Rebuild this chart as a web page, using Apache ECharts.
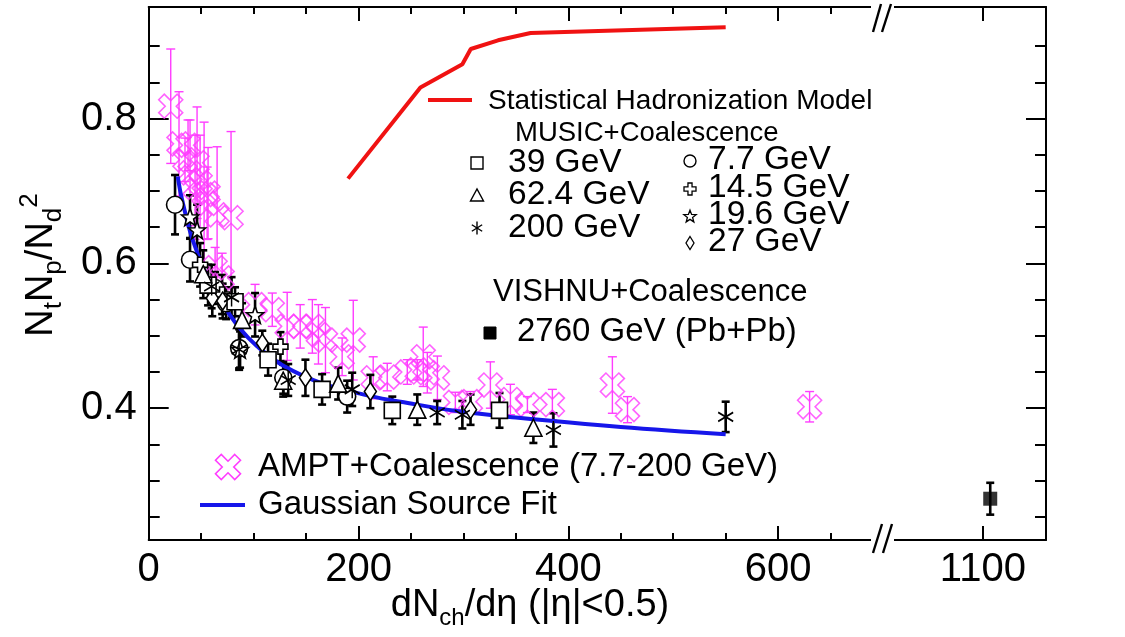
<!DOCTYPE html>
<html>
<head>
<meta charset="utf-8">
<script src="https://cdn.jsdelivr.net/npm/echarts@6/dist/echarts.min.js"></script>
<style>
  html, body { margin: 0; padding: 0; background: #ffffff; }
  #chart { width: 1125px; height: 637px; }
</style>
</head>
<body>
<div id="chart"></div>
<script>
// Each point: [dNch/deta, NtNp/Nd^2, uncertainty]

// AMPT + coalescence, 7.7-200 GeV
const amptPoints = [
  [21.0, 0.817, 0.079], [28.9, 0.765, 0.072], [37.5, 0.763, 0.035], [34.6, 0.743, 0.030],
  [39.4, 0.725, 0.073], [46.1, 0.739, 0.077], [44.2, 0.705, 0.072], [49.0, 0.712, 0.065],
  [52.8, 0.695, 0.100], [56.6, 0.697, 0.063], [55.7, 0.683, 0.050], [65.2, 0.667, 0.094],
  [78.5, 0.663, 0.119], [63.3, 0.594, 0.028], [70.0, 0.580, 0.034], [101.4, 0.543, 0.028],
  [117.8, 0.536, 0.023], [132.0, 0.513, 0.047], [144.4, 0.513, 0.030], [156.0, 0.513, 0.037],
  [161.8, 0.502, 0.041], [168.5, 0.494, 0.045], [184.4, 0.471, 0.026], [195.0, 0.494, 0.055],
  [214.0, 0.442, 0.029], [227.4, 0.443, 0.019], [246.5, 0.450, 0.017], [256.0, 0.453, 0.014],
  [261.7, 0.471, 0.041], [265.6, 0.449, 0.028], [275.2, 0.442, 0.030], [292.3, 0.408, 0.014],
  [306.6, 0.409, 0.014], [325.7, 0.432, 0.032], [344.8, 0.412, 0.021], [361.0, 0.405, 0.011],
  [384.8, 0.405, 0.021], [442.0, 0.432, 0.039], [456.4, 0.398, 0.018], [630.0, 0.402, 0.021]
];

// MUSIC + coalescence, one list per collision energy
const music7p7 = [
  [25.1, 0.681, 0.041], [39.4, 0.605, 0.030], [63.3, 0.566, 0.022], [73.8, 0.545, 0.022],
  [86.2, 0.483, 0.028], [128.3, 0.442, 0.022], [189.2, 0.416, 0.022]
];
const music14p5 = [
  [49.0, 0.598, 0.030], [70.0, 0.557, 0.027], [125.6, 0.485, 0.020]
];
const music19p6 = [
  [39.4, 0.664, 0.030], [46.1, 0.646, 0.035], [101.4, 0.529, 0.030], [87.1, 0.481, 0.025]
];
const music27 = [
  [60.6, 0.552, 0.025], [70.5, 0.548, 0.024], [108.3, 0.490, 0.017], [149.4, 0.442, 0.025],
  [211.3, 0.423, 0.023], [306.8, 0.398, 0.021]
];
const music39 = [
  [56.6, 0.570, 0.028], [82.3, 0.547, 0.020], [113.8, 0.467, 0.022], [165.3, 0.426, 0.021],
  [232.2, 0.397, 0.019], [334.4, 0.397, 0.024]
];
const music62p4 = [
  [52.0, 0.585, 0.033], [89.0, 0.522, 0.023], [128.2, 0.438, 0.022], [180.6, 0.434, 0.022],
  [256.0, 0.398, 0.021], [366.7, 0.373, 0.021]
];
const music200 = [
  [60.0, 0.568, 0.030], [79.0, 0.553, 0.028], [86.2, 0.481, 0.028], [133.0, 0.439, 0.022],
  [194.0, 0.426, 0.023], [275.0, 0.394, 0.016], [299.0, 0.391, 0.019], [385.8, 0.370, 0.023],
  [550.0, 0.388, 0.021]
];

// VISHNU + coalescence, Pb+Pb 2760 GeV
const vishnuPoints = [[1107, 0.275, 0.022]];

// Gaussian source fit
const gaussianFit = [
  [27.7, 0.720], [31.5, 0.690], [42, 0.632], [57, 0.577], [70, 0.545], [87, 0.510],
  [103, 0.486], [128, 0.459], [166, 0.434], [214, 0.416], [240, 0.409], [294, 0.396],
  [350, 0.387], [450, 0.374], [550, 0.364]
];

// Statistical hadronization model
const shmCurve = [
  [190, 0.717], [259, 0.843], [299, 0.875], [307, 0.896], [333, 0.908], [364, 0.918], [550, 0.926]
];

// Axis ticks
const xMajorTicks = [0, 200, 400, 600];
const xMinorTicks = [50, 100, 150, 250, 300, 350, 450, 500, 550, 650];
const xBreakTicks = [1100];
const yMajorTicks = [0.4, 0.6, 0.8];
const yMinorTicks = [0.25, 0.3, 0.35, 0.45, 0.5, 0.55, 0.65, 0.7, 0.75, 0.85, 0.9];

const FONT = "'Liberation Sans', Arial, Helvetica, sans-serif";
const MAGENTA = '#ff3cff';
const BLUE = '#1616ea';
const RED = '#f01212';

// ---- marker outlines, as points in a 100x100 box ----
const crossXPts = [[76.9, 0], [100, 23.1], [73.1, 50], [100, 76.9], [76.9, 100], [50, 73.1],
  [23.1, 100], [0, 76.9], [26.9, 50], [0, 23.1], [23.1, 0], [50, 26.9]];
const plusPts = [[33, 0], [67, 0], [67, 33], [100, 33], [100, 67], [67, 67], [67, 100], [33, 100],
  [33, 67], [0, 67], [0, 33], [33, 33]];
const diamondPts = [[50, 0], [100, 50], [50, 100], [0, 50]];
const starPts = (function () {
  const pts = [];
  for (let i = 0; i < 10; i++) {
    const r = i % 2 === 0 ? 50 : 21;
    const a = -Math.PI / 2 + i * Math.PI / 5;
    pts.push([50 + r * Math.cos(a), 55 + r * Math.sin(a)]);
  }
  return pts;
})();
const asteriskSegs = [[[50, 0], [50, 100]], [[7, 25], [93, 75]], [[7, 75], [93, 25]]];

function symbolFromPoints(pts) {
  return 'path://M' + pts.map(function (p) { return p[0].toFixed(2) + ' ' + p[1].toFixed(2); }).join(' L') + ' Z';
}
const asteriskSymbol = 'path://' + asteriskSegs.map(function (s) {
  return 'M' + s[0][0] + ' ' + s[0][1] + ' L' + s[1][0] + ' ' + s[1][1];
}).join(' ');

const chart = echarts.init(document.getElementById('chart'), null, { renderer: 'canvas' });

function errorBars(color, width, cap) {
  return function (params, api) {
    const x = api.value(0), y = api.value(1), e = api.value(2);
    const top = api.coord([x, y + e]);
    const bot = api.coord([x, y - e]);
    const style = { stroke: color, lineWidth: width, fill: null };
    return {
      type: 'group',
      children: [
        { type: 'line', shape: { x1: top[0], y1: top[1], x2: bot[0], y2: bot[1] }, style: style },
        { type: 'line', shape: { x1: top[0] - cap, y1: top[1], x2: top[0] + cap, y2: top[1] }, style: style },
        { type: 'line', shape: { x1: bot[0] - cap, y1: bot[1], x2: bot[0] + cap, y2: bot[1] }, style: style }
      ]
    };
  };
}

function errorSeries(data, color, width, cap, xi, yi) {
  return {
    type: 'custom', data: data, xAxisIndex: xi || 0, yAxisIndex: yi || 0,
    encode: { x: 0, y: 1 }, renderItem: errorBars(color, width, cap), silent: true, z: 3
  };
}

function musicSeries(name, data, symbol, size) {
  return {
    name: name, type: 'scatter', data: data, symbol: symbol, symbolSize: size,
    itemStyle: { color: '#ffffff', borderColor: '#000000', borderWidth: 1.6, opacity: 1 },
    z: 5, silent: true
  };
}

const axisLineStyle = { color: '#000', width: 2 };
const plainNumber = function (v) { return String(v); };

function xAxisDef(gridIndex, position, min, max, ticks, len, labels, showLine) {
  return {
    type: 'value', gridIndex: gridIndex, position: position, min: min, max: max,
    axisLine: { show: showLine, lineStyle: axisLineStyle },
    axisTick: { show: true, inside: true, length: len, customValues: ticks, lineStyle: { color: '#000', width: 2 } },
    axisLabel: labels ? { show: true, customValues: labels, formatter: plainNumber, fontSize: 40, fontFamily: FONT, color: '#000', margin: 10 } : { show: false },
    splitLine: { show: false }
  };
}
function yAxisDef(gridIndex, position, ticks, len, labels, showLine) {
  return {
    type: 'value', gridIndex: gridIndex, position: position, min: 0.218, max: 0.954,
    axisLine: { show: showLine, lineStyle: axisLineStyle },
    axisTick: { show: true, inside: true, length: len, customValues: ticks, lineStyle: { color: '#000', width: 2 } },
    axisLabel: labels ? { show: true, customValues: labels, formatter: plainNumber, fontSize: 40, fontFamily: FONT, color: '#000', margin: 12 } : { show: false },
    splitLine: { show: false }
  };
}

// ---- legend and decoration graphics ----
function label(x, y, text, size) {
  return {
    type: 'text', x: x, y: y, z: 50,
    style: { text: text, fontSize: size, fontFamily: FONT, fill: '#000',
             textAlign: 'left', textVerticalAlign: 'middle', align: 'left', verticalAlign: 'middle' }
  };
}
function polyIcon(pts, cx, cy, w, h, style) {
  return {
    type: 'polygon', z: 50,
    shape: { points: pts.map(function (p) { return [cx - w / 2 + p[0] * w / 100, cy - h / 2 + p[1] * h / 100]; }) },
    style: style
  };
}
function segIcons(segs, cx, cy, w, h, style) {
  return segs.map(function (s) {
    return {
      type: 'line', z: 50,
      shape: { x1: cx - w / 2 + s[0][0] * w / 100, y1: cy - h / 2 + s[0][1] * h / 100,
               x2: cx - w / 2 + s[1][0] * w / 100, y2: cy - h / 2 + s[1][1] * h / 100 },
      style: style
    };
  });
}
const black = { stroke: '#000', fill: '#fff', lineWidth: 1.4 };

const graphics = [
  // axis breaks
  { type: 'rect', z: 60, shape: { x: 871, y: 535, width: 23, height: 10 }, style: { fill: '#fff' } },
  { type: 'rect', z: 60, shape: { x: 871, y: 2, width: 23, height: 10 }, style: { fill: '#fff' } },
  { type: 'line', z: 61, shape: { x1: 873, y1: 553, x2: 882, y2: 524 }, style: { stroke: '#000', lineWidth: 2.4 } },
  { type: 'line', z: 61, shape: { x1: 883, y1: 553, x2: 892, y2: 524 }, style: { stroke: '#000', lineWidth: 2.4 } },
  { type: 'line', z: 61, shape: { x1: 873, y1: 32, x2: 881, y2: 4 }, style: { stroke: '#000', lineWidth: 2.4 } },
  { type: 'line', z: 61, shape: { x1: 882, y1: 32, x2: 891, y2: 4 }, style: { stroke: '#000', lineWidth: 2.4 } },

  // Statistical Hadronization Model
  { type: 'line', z: 50, shape: { x1: 428, y1: 100, x2: 472, y2: 100 }, style: { stroke: RED, lineWidth: 4 } },
  label(488, 101, 'Statistical Hadronization Model', 28),

  // MUSIC + coalescence
  label(515, 133, 'MUSIC+Coalescence', 27.5),
  { type: 'rect', z: 50, shape: { x: 471, y: 157, width: 12, height: 12 }, style: black },
  { type: 'polygon', z: 50, shape: { points: [[470.5, 201], [483.5, 201], [477, 189]] }, style: black },
  label(508, 163, '39 GeV', 33.5),
  label(508, 195, '62.4 GeV', 33.5),
  label(508, 228, '200 GeV', 33.5),
  { type: 'circle', z: 50, shape: { cx: 690, cy: 161, r: 6 }, style: black },
  polyIcon(plusPts, 690, 189, 12, 12, { stroke: '#000', fill: '#fff', lineWidth: 1.3 }),
  polyIcon(starPts, 690, 216, 13, 13, { stroke: '#000', fill: '#fff', lineWidth: 1.3 }),
  polyIcon(diamondPts, 690, 243, 8, 13, { stroke: '#000', fill: '#fff', lineWidth: 1.3 }),
  label(708, 160, '7.7 GeV', 33.5),
  label(708, 188, '14.5 GeV', 33.5),
  label(708, 215, '19.6 GeV', 33.5),
  label(708, 242, '27 GeV', 33.5),

  // VISHNU + coalescence
  label(493, 292, 'VISHNU+Coalescence', 31),
  { type: 'rect', z: 50, shape: { x: 484, y: 327, width: 12, height: 12 }, style: { fill: '#000', stroke: '#000', lineWidth: 1 } },
  label(517, 332, '2760 GeV (Pb+Pb)', 33),

  // AMPT and fit
  polyIcon(crossXPts, 228, 467, 25, 25, { stroke: MAGENTA, fill: null, lineWidth: 1.6 }),
  label(258, 467, 'AMPT+Coalescence (7.7-200 GeV)', 33),
  { type: 'line', z: 50, shape: { x1: 200, y1: 505, x2: 245, y2: 505 }, style: { stroke: BLUE, lineWidth: 4 } },
  label(258, 505, 'Gaussian Source Fit', 33),

  // axis titles
  {
    type: 'text', x: 530, y: 606, z: 50,
    style: {
      text: 'dN{s|ch}/dη (|η|<0.5)', fontSize: 38, fontFamily: FONT, fill: '#000',
      textAlign: 'center', textVerticalAlign: 'middle', align: 'center', verticalAlign: 'middle',
      lineHeight: 48,
      rich: { s: { fontSize: 24, fontFamily: FONT, lineHeight: 16, verticalAlign: 'bottom' } }
    }
  },
  {
    type: 'text', x: 42, y: 265, rotation: Math.PI / 2, z: 50,
    style: {
      text: 'N{b|t}N{b|p}/N{b|d}{t|2}', fontSize: 38, fontFamily: FONT, fill: '#000',
      textAlign: 'center', textVerticalAlign: 'middle', align: 'center', verticalAlign: 'middle',
      lineHeight: 50,
      rich: {
        b: { fontSize: 26, fontFamily: FONT, lineHeight: 16, verticalAlign: 'bottom' },
        t: { fontSize: 26, fontFamily: FONT, lineHeight: 16, verticalAlign: 'top' }
      }
    }
  }
].concat(segIcons(asteriskSegs, 477, 228, 12, 13, { stroke: '#000', lineWidth: 1.4 }));

const option = {
  animation: false,
  backgroundColor: '#ffffff',
  grid: [
    { left: 148.7, top: 7, width: 776.3, height: 533 },
    { left: 925, top: 7, width: 121, height: 533 }
  ],
  xAxis: [
    xAxisDef(0, 'bottom', 0, 740, xMajorTicks, 14, xMajorTicks, true),
    xAxisDef(0, 'bottom', 0, 740, xMinorTicks, 7, null, false),
    xAxisDef(0, 'top', 0, 740, xMajorTicks, 14, null, true),
    xAxisDef(0, 'top', 0, 740, xMinorTicks, 7, null, false),
    xAxisDef(1, 'bottom', 1045, 1160, xBreakTicks, 14, xBreakTicks, true),
    xAxisDef(1, 'top', 1045, 1160, xBreakTicks, 14, null, true)
  ],
  yAxis: [
    yAxisDef(0, 'left', yMajorTicks, 20, yMajorTicks, true),
    yAxisDef(0, 'left', yMinorTicks, 11, null, false),
    yAxisDef(1, 'right', yMajorTicks, 20, null, true),
    yAxisDef(1, 'right', yMinorTicks, 11, null, false)
  ],
  graphic: graphics,
  series: [
    errorSeries(amptPoints, MAGENTA, 1.4, 4.5),
    {
      name: 'AMPT+Coalescence (7.7-200 GeV)', type: 'scatter', data: amptPoints,
      symbol: symbolFromPoints(crossXPts), symbolSize: [24, 24],
      itemStyle: { color: 'rgba(0,0,0,0)', borderColor: MAGENTA, borderWidth: 1.6 }, z: 3, silent: true
    },
    {
      name: 'Gaussian Source Fit', type: 'line', data: gaussianFit, smooth: 0.4, showSymbol: false,
      symbol: 'none', lineStyle: { color: BLUE, width: 4 }, z: 4, silent: true
    },
    {
      name: 'Statistical Hadronization Model', type: 'line', data: shmCurve, showSymbol: false,
      symbol: 'none', lineStyle: { color: RED, width: 4 }, z: 4, silent: true
    },
    errorSeries(music7p7, '#000', 2.6, 4),
    errorSeries(music14p5, '#000', 2.6, 4),
    errorSeries(music19p6, '#000', 2.6, 4),
    errorSeries(music27, '#000', 2.6, 4),
    errorSeries(music39, '#000', 2.6, 4),
    errorSeries(music62p4, '#000', 2.6, 4),
    errorSeries(music200, '#000', 2.6, 4),
    musicSeries('7.7 GeV', music7p7, 'circle', 17),
    musicSeries('14.5 GeV', music14p5, symbolFromPoints(plusPts), 15),
    musicSeries('19.6 GeV', music19p6, symbolFromPoints(starPts), 17),
    musicSeries('27 GeV', music27, symbolFromPoints(diamondPts), [12, 18]),
    musicSeries('39 GeV', music39, 'rect', 16),
    musicSeries('62.4 GeV', music62p4, 'triangle', 17),
    musicSeries('200 GeV', music200, asteriskSymbol, [15, 18]),
    errorSeries(vishnuPoints, '#000', 2.6, 4, 4, 2),
    {
      name: '2760 GeV (Pb+Pb)', type: 'scatter', data: vishnuPoints, xAxisIndex: 4, yAxisIndex: 2,
      symbol: 'rect', symbolSize: 14, itemStyle: { color: '#000' }, z: 5, silent: true
    }
  ]
};

chart.setOption(option);
</script>
</body>
</html>
